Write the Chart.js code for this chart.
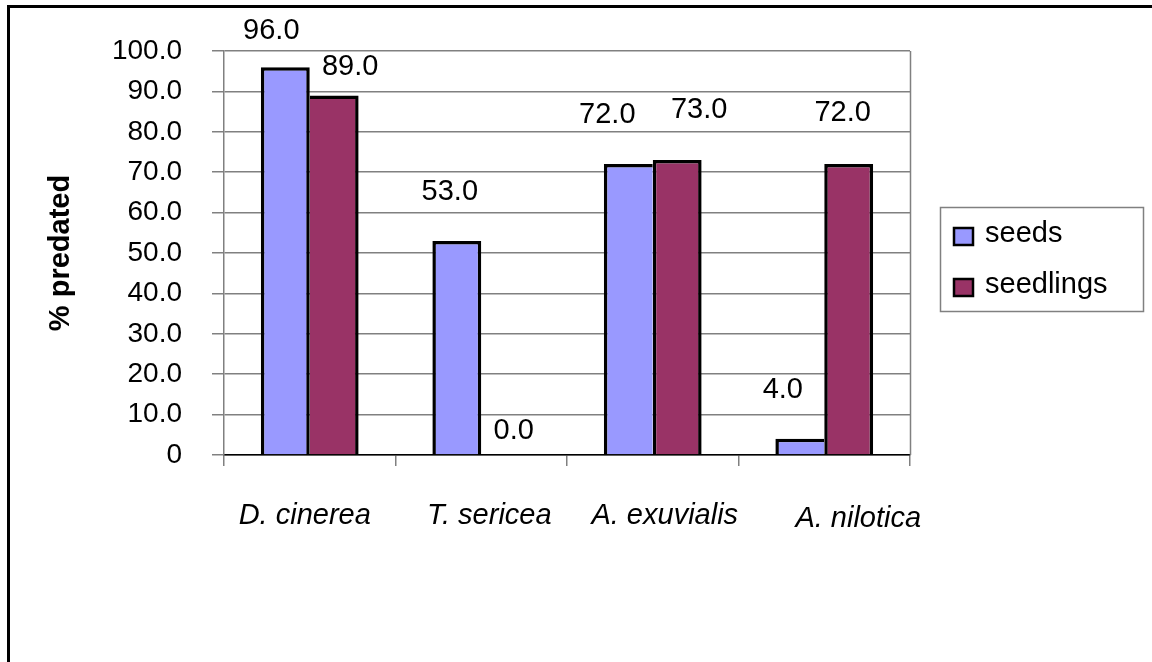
<!DOCTYPE html>
<html>
<head>
<meta charset="utf-8">
<script src="https://cdn.jsdelivr.net/npm/chart.js@4/dist/chart.umd.min.js"></script>
<style>
  html, body { margin: 0; padding: 0; background: #fff; }
  #wrap { width: 1152px; height: 662px; position: relative; }
</style>
</head>
<body>
<div id="wrap"><canvas id="c" width="1152" height="662"></canvas></div>
<script>
// Predation of seeds vs seedlings per species (%)
const categories = ['D. cinerea', 'T. sericea', 'A. exuvialis', 'A. nilotica'];
const seedsPct = [96.0, 53.0, 72.0, 4.0];
const seedlingsPct = [89.0, 0.0, 73.0, 72.0];
const seriesNames = ['seeds', 'seedlings'];
const yAxisTitle = '% predated';
const yMin = 0, yMax = 100, yStep = 10;

const FONT = "'Liberation Sans', Arial, sans-serif";
Chart.defaults.font.family = FONT;
Chart.defaults.color = '#000';

const SEEDS_FILL = '#9999FF';
const SEEDLINGS_FILL = '#993366';
const GRID = '#808080';
const EDGE = 3.5;

// the taller bar of a pair owns the shared edge so the divider stays one stroke wide
function edgeWidths(own, other, side) {
  return (ctx) => {
    const i = ctx.dataIndex;
    const a = own[i], b = other[i];
    const w = { top: EDGE, bottom: 0, left: EDGE, right: EDGE };
    if (side === 'right') w.right = a >= b ? EDGE : 0;
    else w.left = a > b ? EDGE : 0;
    return w;
  };
}

// outer picture frame (left and top edges)
const pageFrame = {
  id: 'pageFrame',
  beforeDraw(chart) {
    const { ctx, width, height } = chart;
    ctx.save();
    ctx.fillStyle = '#fff';
    ctx.fillRect(0, 0, width, height);
    ctx.strokeStyle = '#000';
    ctx.lineWidth = 3;
    ctx.beginPath();
    ctx.moveTo(8.5, height + 5);
    ctx.lineTo(8.5, 6.5);
    ctx.lineTo(width + 5, 6.5);
    ctx.stroke();
    ctx.restore();
  }
};

// right edge of the plot area
const plotEdge = {
  id: 'plotEdge',
  beforeDatasetsDraw(chart) {
    const { ctx, chartArea } = chart;
    const x = Math.round(chartArea.right) + 0.5;
    ctx.save();
    ctx.strokeStyle = GRID;
    ctx.lineWidth = 1.5;
    ctx.beginPath();
    ctx.moveTo(x, chartArea.top);
    ctx.lineTo(x, chartArea.bottom);
    ctx.stroke();
    ctx.restore();
  }
};

// italic species names under the category axis
const categoryNames = {
  id: 'categoryNames',
  afterDraw(chart, args, opts) {
    const { ctx } = chart;
    const xScale = chart.scales.x;
    ctx.save();
    ctx.font = opts.font;
    ctx.fillStyle = '#000';
    ctx.textAlign = 'center';
    ctx.textBaseline = 'middle';
    chart.data.labels.forEach((name, i) => {
      const n = opts.nudges[i] || [0, 0];
      ctx.fillText(name, xScale.getPixelForValue(i) + n[0], xScale.top + opts.drop + n[1]);
    });
    ctx.restore();
  }
};

// value captions above each bar
const valueLabels = {
  id: 'valueLabels',
  afterDatasetsDraw(chart, args, opts) {
    const { ctx } = chart;
    ctx.save();
    ctx.font = opts.font;
    ctx.fillStyle = '#000';
    ctx.textAlign = 'center';
    ctx.textBaseline = 'middle';
    chart.data.datasets.forEach((ds, di) => {
      const meta = chart.getDatasetMeta(di);
      meta.data.forEach((bar, i) => {
        const n = (opts.nudges[di] && opts.nudges[di][i]) || [0, -40];
        ctx.fillText(ds.data[i].toFixed(1), bar.x + n[0], bar.y + n[1]);
      });
    });
    ctx.restore();
  }
};

// boxed legend to the right of the plot
const boxLegend = {
  id: 'boxLegend',
  afterDraw(chart, args, opts) {
    const { ctx, chartArea } = chart;
    const left = chartArea.right + opts.gap;
    const top = (chartArea.top + chartArea.bottom) / 2 - opts.height / 2 + opts.shift;
    ctx.save();
    ctx.fillStyle = '#fff';
    ctx.fillRect(left, top, opts.width, opts.height);
    ctx.strokeStyle = GRID;
    ctx.lineWidth = 1.5;
    ctx.strokeRect(left + 0.5, top + 0.5, opts.width, opts.height);
    ctx.font = opts.font;
    ctx.textAlign = 'left';
    ctx.textBaseline = 'alphabetic';
    chart.data.datasets.forEach((ds, di) => {
      const rowY = top + opts.firstRow + di * opts.rowGap;
      ctx.fillStyle = ds.backgroundColor;
      ctx.fillRect(left + 14, rowY - 14, 19, 17);
      ctx.strokeStyle = '#000';
      ctx.lineWidth = 2.5;
      ctx.strokeRect(left + 14, rowY - 14, 19, 17);
      ctx.fillStyle = '#000';
      ctx.fillText(ds.label, left + 45, rowY);
    });
    ctx.restore();
  }
};

new Chart(document.getElementById('c'), {
  type: 'bar',
  data: {
    labels: categories,
    datasets: [
      {
        label: seriesNames[0],
        data: seedsPct,
        backgroundColor: SEEDS_FILL,
        borderColor: '#000',
        borderWidth: edgeWidths(seedsPct, seedlingsPct, 'right'),
        categoryPercentage: 0.57,
        barPercentage: 1.0
      },
      {
        label: seriesNames[1],
        data: seedlingsPct,
        backgroundColor: SEEDLINGS_FILL,
        borderColor: '#000',
        borderWidth: edgeWidths(seedlingsPct, seedsPct, 'left'),
        categoryPercentage: 0.57,
        barPercentage: 1.0
      }
    ]
  },
  options: {
    responsive: false,
    animation: false,
    devicePixelRatio: 1,
    layout: { padding: { left: 40, top: 51, right: 242, bottom: 0 } },
    plugins: {
      legend: { display: false },
      tooltip: { enabled: false },
      valueLabels: {
        font: `29px ${FONT}`,
        nudges: [
          [[-14, -36], [-7, -49], [-21, -49], [-17, -49]],
          [[16, -28], [8, -24], [22, -50], [-6, -51]]
        ]
      },
      categoryNames: {
        font: `italic 29px ${FONT}`,
        drop: 61,
        nudges: [[-5, 0], [8, 0], [12, 0], [34, 3]]
      },
      boxLegend: {
        font: `29px ${FONT}`,
        gap: 30, width: 203, height: 104, shift: 6,
        firstRow: 35, rowGap: 51
      }
    },
    scales: {
      x: {
        afterFit(scale) { scale.height = 207; },
        grid: {
          offset: true,
          drawOnChartArea: false,
          drawTicks: true,
          tickLength: 11,
          color: GRID,
          lineWidth: 1.5
        },
        border: { display: true, color: '#000', width: 1.5 },
        ticks: { display: false }
      },
      y: {
        min: yMin,
        max: yMax,
        afterFit(scale) { scale.width = 184; },
        grid: {
          color: GRID,
          lineWidth: 1.5,
          drawTicks: true,
          tickLength: 12
        },
        border: { display: true, color: GRID, width: 1.5 },
        ticks: {
          stepSize: yStep,
          padding: 30,
          font: { size: 28 },
          color: '#000',
          callback: (v) => (v === 0 ? '0' : Number(v).toFixed(1))
        },
        title: {
          display: true,
          text: yAxisTitle,
          font: { size: 29, weight: 'bold' },
          color: '#000',
          padding: { top: 4, bottom: 0 }
        }
      }
    }
  },
  plugins: [pageFrame, plotEdge, categoryNames, valueLabels, boxLegend]
});
</script>
</body>
</html>
